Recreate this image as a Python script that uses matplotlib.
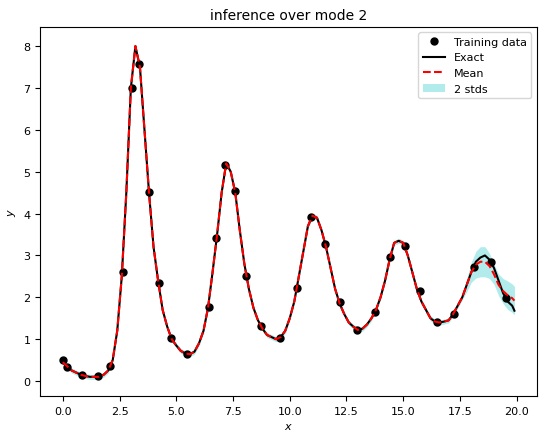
import matplotlib
matplotlib.use("Agg")
import matplotlib.pyplot as plt
import numpy as np

train_x = [0.0, 0.2, 0.84, 1.55, 2.1, 2.65, 3.05, 3.35, 3.8, 4.24, 4.77, 5.47, 6.45, 6.75, 7.15, 7.6,
           8.08, 8.74, 9.58, 10.33, 10.95, 11.57, 12.2, 12.95, 13.75, 14.4, 15.1, 15.72, 16.5, 17.25,
           18.1, 18.85, 19.55]
train_y = [0.5, 0.33, 0.14, 0.12, 0.35, 2.6, 7.0, 7.57, 4.52, 2.34, 1.04, 0.64, 1.77, 3.41, 5.16, 4.54,
           2.5, 1.32, 1.04, 2.22, 3.93, 3.27, 1.89, 1.23, 1.66, 2.96, 3.22, 2.15, 1.42, 1.6,
           2.72, 2.84, 1.99]

grid_x = [round(0.2 * i, 1) for i in range(100)] + [19.9]
exact_y = [0.45, 0.35, 0.25, 0.2, 0.15, 0.12, 0.1, 0.1, 0.1, 0.15, 0.25, 0.5, 1.2, 2.5, 4.5, 7.0, 8.0,
           7.5, 6.0, 4.5, 3.2, 2.4, 1.7, 1.3, 1.0, 0.85, 0.72, 0.66, 0.64, 0.7, 0.9, 1.2, 1.75, 2.6,
           3.5, 4.5, 5.2, 5.0, 4.5, 3.6, 2.8, 2.2, 1.75, 1.45, 1.25, 1.1, 1.05, 1.0, 1.05, 1.2, 1.5,
           1.9, 2.5, 3.1, 3.7, 3.95, 3.9, 3.6, 3.2, 2.7, 2.2, 1.85, 1.6, 1.4, 1.3, 1.22, 1.25, 1.35,
           1.5, 1.7, 2.0, 2.4, 2.9, 3.3, 3.35, 3.3, 3.0, 2.6, 2.2, 1.9, 1.7, 1.5, 1.42, 1.4, 1.42,
           1.45, 1.6, 1.8, 2.0, 2.3, 2.6, 2.85, 2.95, 3.0, 2.9, 2.7, 2.4, 2.1, 1.9, 1.8, 1.68]
mean_tail = [2.3, 2.6, 2.78, 2.85, 2.85, 2.75, 2.55, 2.3, 2.15, 2.05, 1.98, 1.92]
std_tail = [0.08, 0.12, 0.16, 0.18, 0.18, 0.15, 0.12, 0.13, 0.15, 0.17, 0.17, 0.17]

exact_y = np.array(exact_y)
mean_y = exact_y.copy()
mean_y[-12:] = mean_tail
std = np.full(len(grid_x), 0.03)
std[-12:] = std_tail

fig, ax = plt.subplots(figsize=(5.43, 4.35), dpi=100)
ax.plot(train_x, train_y, 'ko', markersize=5, label='Training data')
ax.plot(grid_x, exact_y, 'k-', lw=1.5, label='Exact')
ax.plot(grid_x, mean_y, 'r--', lw=1.5, label='Mean')
ax.fill_between(grid_x, mean_y - 2 * std, mean_y + 2 * std, color='c', alpha=0.3, lw=0, label='2 stds')
ax.set_title('inference over mode 2', fontsize=10)
ax.set_xlabel('$x$', fontsize=8)
ax.set_ylabel('$y$', fontsize=8)
ax.tick_params(labelsize=8)
ax.legend(loc='upper right', fontsize=8)
plt.subplots_adjust(left=0.074, right=0.989, top=0.936, bottom=0.087)
plt.savefig('out.png', dpi=100)
